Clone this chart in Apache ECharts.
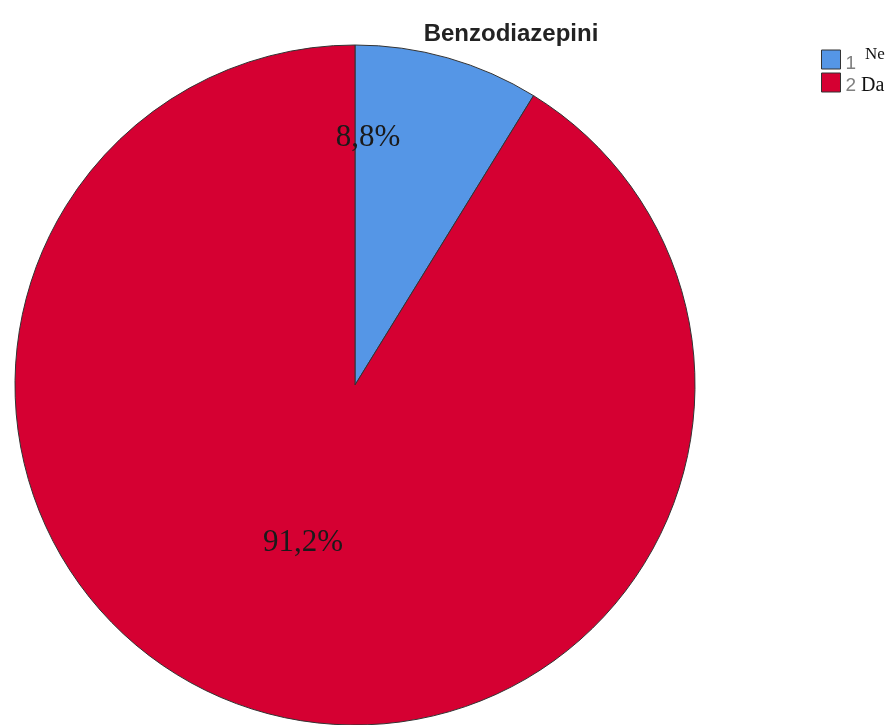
<!DOCTYPE html>
<html>
<head>
<meta charset="utf-8">
<script src="https://cdn.jsdelivr.net/npm/echarts@6/dist/echarts.min.js"></script>
<style>html,body{margin:0;padding:0;background:#fff;}#c{width:889px;height:725px;}</style>
</head>
<body>
<div id="c"></div>
<script>
const titleText = 'Benzodiazepini';
const categories = ['Ne', 'Da'];
const codes = ['1', '2'];
const values = [8.8, 91.2];
const colors = ['#5596E6', '#D50032'];

const chart = echarts.init(document.getElementById('c'));
const data = categories.map((c, i) => ({ name: c, value: values[i], itemStyle: { color: colors[i] } }));

const legendRich = {
  num: { fontFamily: 'Liberation Sans, Arial', fontSize: 19, color: '#808080', verticalAlign: 'bottom', lineHeight: 27, padding: [0, 9, 0, 0] },
  sup: { fontFamily: 'Liberation Serif, Times New Roman', fontSize: 17, color: '#111', verticalAlign: 'top', lineHeight: 17 },
  num2: { fontFamily: 'Liberation Sans, Arial', fontSize: 19, color: '#808080', lineHeight: 20, padding: [6, 5, 0, 0] },
  lab: { fontFamily: 'Liberation Serif, Times New Roman', fontSize: 20, color: '#111', lineHeight: 20, padding: [6, 0, 0, 0] }
};
const legendTops = [46, 69.5];

chart.setOption({
  animation: false,
  backgroundColor: '#fff',
  title: {
    text: titleText,
    left: 506, top: 17, textAlign: 'center',
    textStyle: { fontFamily: 'Liberation Sans, Arial', fontWeight: 'bold', fontSize: 24, color: '#222' }
  },
  legend: categories.map((c, i) => ({
    orient: 'vertical', left: 821, top: legendTops[i], padding: 0,
    itemWidth: 19, itemHeight: 19,
    icon: 'rect',
    itemStyle: { borderColor: '#333', borderWidth: 1 },
    data: [c],
    formatter: function (name) {
      return i === 0 ? '{num|' + codes[i] + '}{sup|' + name + '}' : '{num2|' + codes[i] + '}{lab|' + name + '}';
    },
    textStyle: { rich: legendRich }
  })),
  series: [{
    type: 'pie',
    center: [355, 385],
    radius: 340,
    startAngle: 90,
    clockwise: true,
    data: data,
    itemStyle: { borderColor: '#333', borderWidth: 1 },
    label: {
      show: true,
      position: 'inside',
      formatter: function (p) { return p.value.toFixed(1).replace('.', ',') + '%'; },
      fontFamily: 'Liberation Serif, Times New Roman',
      fontSize: 31,
      color: '#1a1a1a'
    },
    labelLine: { show: false },
    labelLayout: function (p) {
      return p.dataIndex === 0 ? { x: 368, y: 138, align: 'center', verticalAlign: 'middle' }
                               : { x: 303, y: 543, align: 'center', verticalAlign: 'middle' };
    },
    emphasis: { disabled: true }
  }]
});
</script>
</body>
</html>
